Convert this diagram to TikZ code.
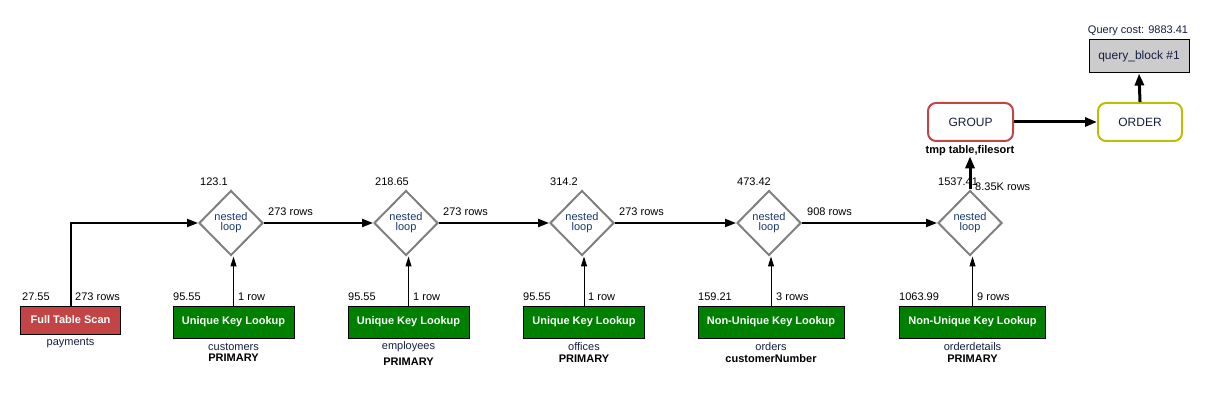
\documentclass[tikz,border=0pt]{standalone}
\usepackage{fontspec}
\setmainfont{Liberation Sans}
\usetikzlibrary{shapes.geometric,arrows.meta,positioning}
\definecolor{ftsred}{RGB}{194,68,68}
\definecolor{uklgreen}{RGB}{0,128,0}
\definecolor{nlblue}{RGB}{25,55,110}
\definecolor{tblnavy}{RGB}{20,30,65}
\definecolor{grpred}{RGB}{192,70,70}
\definecolor{ordyel}{RGB}{190,190,0}
\definecolor{qbgray}{RGB}{204,204,204}
\definecolor{nlgray}{RGB}{128,128,128}
\tikzset{
  opbox/.style={draw=black, line width=1pt, font=\fontsize{11}{12}\selectfont\bfseries, text=white, inner sep=0pt},
  ftsbox/.style={opbox, fill=ftsred, minimum width=100pt, minimum height=28pt},
  uklbox/.style={opbox, fill=uklgreen, minimum width=121pt, minimum height=32pt},
  nuklbox/.style={opbox, fill=uklgreen, minimum width=146pt, minimum height=32pt},
  nlloop/.style={diamond, draw=nlgray, line width=2pt, minimum width=64pt, minimum height=65pt, inner sep=0pt, aspect=1,
     align=center, text=nlblue, font=\fontsize{11}{10}\selectfont},
  numlbl/.style={font=\fontsize{11}{12}\selectfont, text=black, inner sep=0pt, anchor=west},
  tbllbl/.style={font=\fontsize{11}{12}\selectfont, text=tblnavy, inner sep=0pt},
  keylbl/.style={font=\fontsize{11}{12}\selectfont\bfseries, text=black, inner sep=0pt},
  thickarr/.style={line width=2pt, -{Triangle[length=11pt,width=8pt]}},
  thinarr/.style={line width=1pt, -{Triangle[length=10pt,width=6pt]}},
  heavyarr/.style={line width=3pt, -{Triangle[length=12pt,width=9pt]}},
  opround/.style={rounded corners=8pt, line width=2pt, minimum width=85pt, minimum height=38pt, font=\fontsize{12}{13}\selectfont, text=tblnavy, inner sep=0pt},
}
\begin{document}
\begin{tikzpicture}[x=1pt,y=-1pt]
\useasboundingbox (0,0) rectangle (1222,419);
% operation boxes
\node[ftsbox] (fts) at (70.5,320) {Full Table Scan};
\node[uklbox] (b1) at (233.5,322) {Unique Key Lookup};
\node[uklbox] (b2) at (408.5,322) {Unique Key Lookup};
\node[uklbox] (b3) at (584,322) {Unique Key Lookup};
\node[nuklbox] (b4) at (771,322) {Non-Unique Key Lookup};
\node[nuklbox] (b5) at (972.5,322) {Non-Unique Key Lookup};
% nested loops
\node[nlloop] (d1) at (231,223) {nested\\loop};
\node[nlloop] (d2) at (406,223) {nested\\loop};
\node[nlloop] (d3) at (582,223) {nested\\loop};
\node[nlloop] (d4) at (769,223) {nested\\loop};
\node[nlloop] (d5) at (970,223) {nested\\loop};
% top
\node[opround, draw=grpred] (grp) at (970.5,122) {GROUP};
\node[opround, draw=ordyel, minimum width=84pt] (ord) at (1140,122) {ORDER};
\node[draw=black, line width=1pt, fill=qbgray, minimum width=100pt, minimum height=33pt, inner sep=0pt,
      font=\fontsize{12}{13}\selectfont, text=tblnavy] (qb) at (1139,56.5) {query\_block \#1};
\node[font=\fontsize{11}{12}\selectfont, text=tblnavy, inner sep=0pt] (qcost) at (1138,31) {Query cost: 9883.41};
\node[keylbl] (grplbl) at (970,151) {tmp table,filesort};
% table labels
\node[tbllbl] (t0) at (70.5,343) {payments};
\node[tbllbl] (t1) at (233.5,347) {customers};
\node[keylbl] (k1) at (233.5,358) {PRIMARY};
\node[tbllbl] (t2) at (408.5,347) {employees};
\node[keylbl] (k2) at (408.5,362) {PRIMARY};
\node[tbllbl] (t3) at (584,347) {offices};
\node[keylbl] (k3) at (584,359) {PRIMARY};
\node[tbllbl] (t4) at (771,347) {orders};
\node[keylbl] (k4) at (771,359) {customerNumber};
\node[tbllbl] (t5) at (972.5,347) {orderdetails};
\node[keylbl] (k5) at (972.5,359) {PRIMARY};
% cost labels
\node[numlbl] (c0) at (22,297) {27.55};
\node[numlbl] (c1) at (173,297) {95.55};
\node[numlbl] (c2) at (348,297) {95.55};
\node[numlbl] (c3) at (523,297) {95.55};
\node[numlbl] (c4) at (698,297) {159.21};
\node[numlbl] (c5) at (899,297) {1063.99};
\node[numlbl] (n1) at (200,182) {123.1};
\node[numlbl] (n2) at (375,182) {218.65};
\node[numlbl] (n3) at (550,182) {314.2};
\node[numlbl] (n4) at (737,182) {473.42};
\node[numlbl] (n5) at (938,182) {1537.41};
% row labels
\node[numlbl] (r0) at (75,297) {273 rows};
\node[numlbl] (r1) at (238,297) {1 row};
\node[numlbl] (r2) at (413,297) {1 row};
\node[numlbl] (r3) at (588,297) {1 row};
\node[numlbl] (r4) at (776,297) {3 rows};
\node[numlbl] (r5) at (977,297) {9 rows};
\node[numlbl] (e1) at (268,212) {273 rows};
\node[numlbl] (e2) at (443,212) {273 rows};
\node[numlbl] (e3) at (619,212) {273 rows};
\node[numlbl] (e4) at (807,212) {908 rows};
\node[numlbl] (e5) at (975,187) {8.35K rows};
% connectors
\draw[thickarr] (fts.north) |- (d1.west);
\draw[thickarr] (d1.east) -- (d2.west);
\draw[thickarr] (d2.east) -- (d3.west);
\draw[thickarr] (d3.east) -- (d4.west);
\draw[thickarr] (d4.east) -- (d5.west);
\draw[thinarr] (b1.north) -- (b1.north |- d1.south);
\draw[thinarr] (b2.north) -- (b2.north |- d2.south);
\draw[thinarr] (b3.north) -- (b3.north |- d3.south);
\draw[thinarr] (b4.north) -- (b4.north |- d4.south);
\draw[thinarr] (b5.north) -- (b5.north |- d5.south);
\draw[heavyarr] (d5.north) -- (d5.north |- grplbl.south);
\draw[heavyarr] (grp.east) -- (ord.west);
\draw[heavyarr] (ord.north) -- (qb.south);
\end{tikzpicture}
\end{document}
